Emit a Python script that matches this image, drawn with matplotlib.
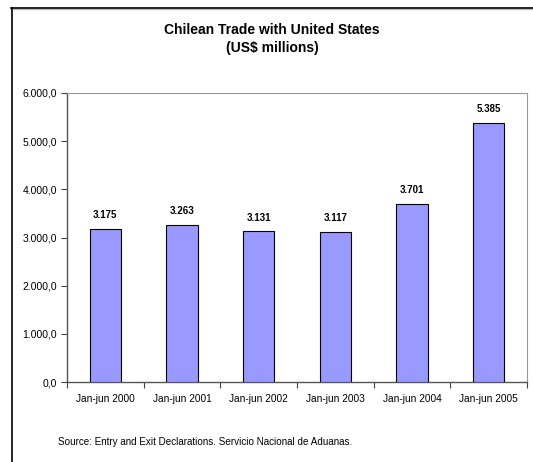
import matplotlib.pyplot as plt
import matplotlib.lines as mlines
import matplotlib.ticker as mticker

periods = ['Jan-jun 2000', 'Jan-jun 2001', 'Jan-jun 2002', 'Jan-jun 2003', 'Jan-jun 2004', 'Jan-jun 2005']
trade = [3175, 3263, 3131, 3117, 3701, 5385]
yticks = [0, 1000, 2000, 3000, 4000, 5000, 6000]

plt.rcParams['font.family'] = ['Liberation Sans', 'DejaVu Sans']

W, H = 533, 462
fig = plt.figure(figsize=(W / 100, H / 100), dpi=100)
ax = fig.add_axes([67 / W, 1 - 382 / H, (527 - 67) / W, (382 - 93) / H])

x = range(len(periods))
ax.bar(x, trade, width=0.41, color='#9999FF', edgecolor='black', linewidth=0.8, zorder=3)
for xi, v in zip(x, trade):
    lbl = '{:,}'.format(v).replace(',', '.')
    ax.text(xi, v + 180, lbl, ha='center', va='bottom', fontsize=7, fontweight='bold')

ax.set_xlim(-0.5, len(periods) - 0.5)
ax.set_ylim(0, 6000)
ax.set_yticks(yticks)
ax.yaxis.set_major_formatter(mticker.FuncFormatter(
    lambda v, p: '{:,.1f}'.format(v).replace(',', 'X').replace('.', ',').replace('X', '.')))
ax.set_xticks(list(x))
ax.set_xticklabels(periods)
ax.set_xticks([i - 0.5 for i in range(len(periods) + 1)], minor=True)
ax.tick_params(axis='x', which='major', length=0, pad=9, labelsize=7.3)
ax.tick_params(axis='x', which='minor', length=4, width=0.8, color='#444444', direction='out')
ax.tick_params(axis='y', length=4, width=0.8, color='#444444', labelsize=7.5, pad=3)

ax.spines['left'].set_color('#555555')
ax.spines['bottom'].set_color('#555555')
ax.spines['left'].set_linewidth(1.0)
ax.spines['bottom'].set_linewidth(1.0)
ax.spines['top'].set_color('#999999')
ax.spines['right'].set_color('#999999')
ax.spines['top'].set_linewidth(0.8)
ax.spines['right'].set_linewidth(0.8)

# chart frame: top and left edges with a light shadow
fig.add_artist(mlines.Line2D([11 / W, 1], [1 - 9 / H, 1 - 9 / H], color='#bbbbbb', lw=1.0,
                             transform=fig.transFigure))
fig.add_artist(mlines.Line2D([11 / W, 1], [1 - 8 / H, 1 - 8 / H], color='black', lw=1.2,
                             transform=fig.transFigure))
fig.add_artist(mlines.Line2D([12 / W, 12 / W], [0, 1 - 8 / H], color='black', lw=1.2,
                             transform=fig.transFigure))

fig.text(272 / W, 1 - 30 / H, 'Chilean Trade with United States', ha='center', va='center',
         fontsize=10, fontweight='bold')
fig.text(272 / W, 1 - 48 / H, '(US$ millions)', ha='center', va='center',
         fontsize=10, fontweight='bold')
fig.text(58 / W, 1 - 442 / H, 'Source: Entry and Exit Declarations. Servicio Nacional de Aduanas.',
         ha='left', va='center', fontsize=7.1)

fig.savefig('out.png', dpi=100)
